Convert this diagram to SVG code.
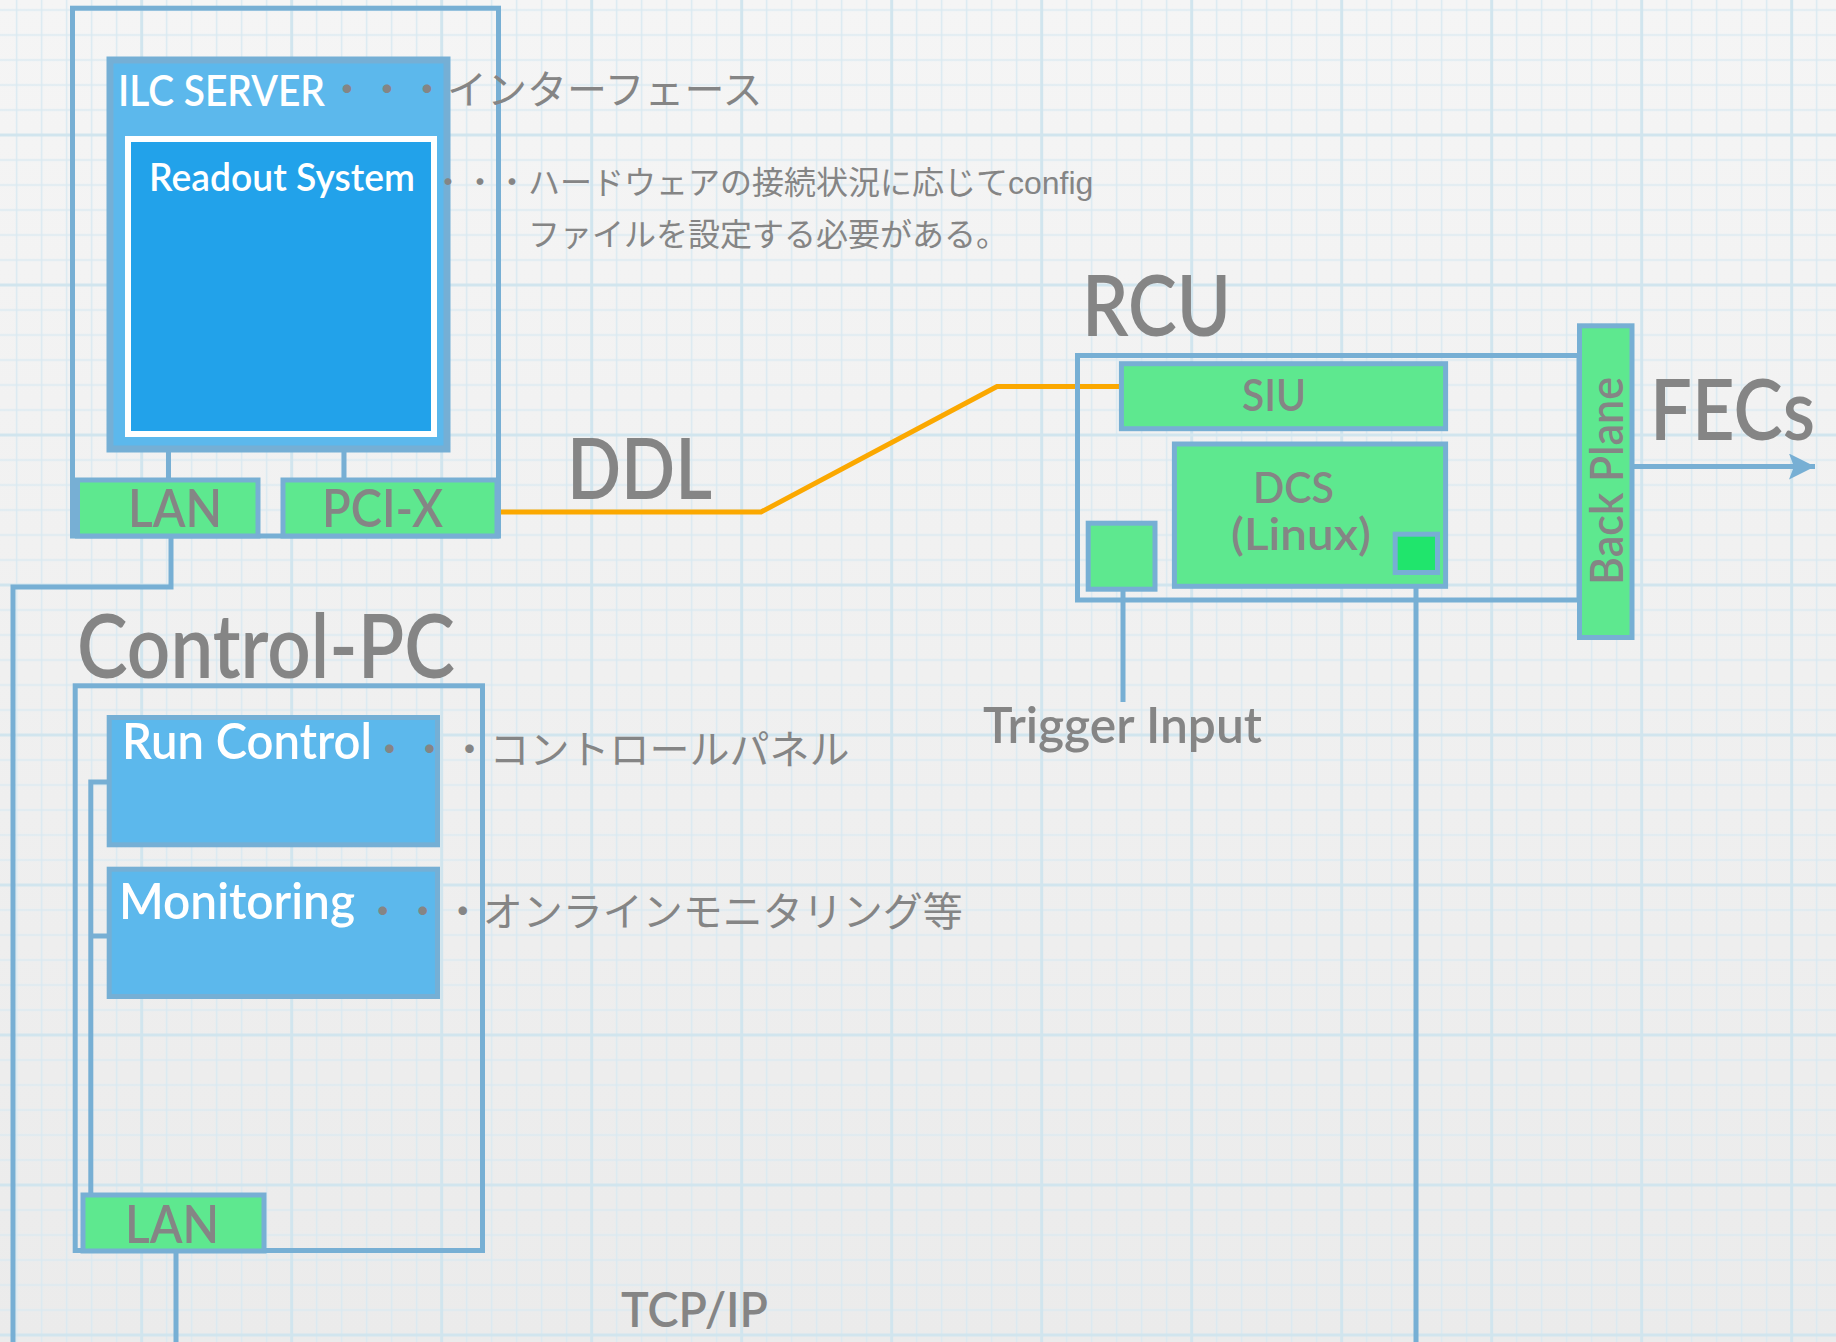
<svg xmlns="http://www.w3.org/2000/svg" width="1836" height="1342" viewBox="0 0 1836 1342">
<defs>
<linearGradient id="bg" x1="0" y1="0" x2="0" y2="1">
<stop offset="0" stop-color="#f5f5f5"/>
<stop offset="1" stop-color="#ebebeb"/>
</linearGradient>
<pattern id="grid" patternUnits="userSpaceOnUse" x="4.2" y="-2.5" width="150" height="150">
<g stroke="#d9e9f1" stroke-width="1.5">
<line x1="12.5" y1="0" x2="12.5" y2="150"/>
<line x1="37.5" y1="0" x2="37.5" y2="150"/>
<line x1="62.5" y1="0" x2="62.5" y2="150"/>
<line x1="87.5" y1="0" x2="87.5" y2="150"/>
<line x1="112.5" y1="0" x2="112.5" y2="150"/>
<line x1="0" y1="12.5" x2="150" y2="12.5"/>
<line x1="0" y1="37.5" x2="150" y2="37.5"/>
<line x1="0" y1="62.5" x2="150" y2="62.5"/>
<line x1="0" y1="87.5" x2="150" y2="87.5"/>
<line x1="0" y1="112.5" x2="150" y2="112.5"/>
</g>
<g stroke="#d1e5ee" stroke-width="3">
<line x1="137.5" y1="0" x2="137.5" y2="150"/>
<line x1="0" y1="137.5" x2="150" y2="137.5"/>
</g>
</pattern>
<marker id="arrow" markerUnits="userSpaceOnUse" markerWidth="30" markerHeight="30" refX="26" refY="13" orient="auto">
<path d="M0,0 L26,13 L0,26 L5,13 Z" fill="#77afd4"/>
</marker>
</defs>
<style>
.frame{fill:none;stroke:#77afd4;stroke-width:5}
.green{fill:#5ee88f;stroke:#77afd4;stroke-width:5}
.blue{fill:#5cb8ec;stroke:#75afd5;stroke-width:5}
.wire{fill:none;stroke:#77afd4;stroke-width:5}
.ddl{fill:none;stroke:#fba800;stroke-width:5;stroke-linejoin:miter}
.lbl{font-family:"Lato","Liberation Sans",sans-serif;font-weight:600;fill:#858585}
.wht{font-family:"Lato","Liberation Sans",sans-serif;font-weight:600;fill:#ffffff}
.note{font-family:"Liberation Sans","Noto Sans CJK JP",sans-serif;fill:#858585}
</style>
<rect x="0" y="0" width="1836" height="1342" fill="url(#bg)"/>
<rect x="0" y="0" width="1836" height="1342" fill="url(#grid)"/>

<g id="connectors">
<path class="wire" d="M168.5,452 V479"/>
<path class="wire" d="M344,437 V479"/>
<path class="wire" d="M171,538 V587 H13 V1342"/>
<path class="wire" d="M120,782 H90.8 V1195 M90.8,936 H120"/>
<path class="wire" d="M176,1252 V1342"/>
<path class="wire" d="M1123,591 V702"/>
<path class="wire" d="M1416,575 V1342"/>
<path class="wire" d="M1634,466.5 H1815" marker-end="url(#arrow)"/>
<path class="ddl" d="M497,512 H761 L997,386.5 H1121"/>
</g>

<g id="ilc-server-frame">
<rect class="frame" x="72.5" y="8.2" width="426" height="527.8"/>
</g>
<g id="ilc-server">
<rect x="110" y="60" width="337" height="389" fill="#5cb8ec" stroke="#75afd5" stroke-width="7"/>
<text class="wht" x="118" y="106" font-size="42" textLength="207" lengthAdjust="spacingAndGlyphs">ILC SERVER</text>
</g>
<g id="readout-system">
<rect x="128" y="139" width="306" height="295" fill="#22a2ea" stroke="#ffffff" stroke-width="6"/>
<text class="wht" x="149" y="191" font-size="39" textLength="266" lengthAdjust="spacingAndGlyphs">Readout System</text>
</g>
<g id="lan-server">
<rect class="green" x="77.5" y="480" width="180.5" height="56"/>
<text class="lbl" x="128" y="527" font-size="52" textLength="94" lengthAdjust="spacingAndGlyphs">LAN</text>
</g>
<g id="pci-x">
<rect class="green" x="283" y="480" width="214" height="56"/>
<text class="lbl" x="322" y="527" font-size="52" textLength="121" lengthAdjust="spacingAndGlyphs">PCI-X</text>
</g>

<g id="notes-server">
<text class="note" x="327" y="104" font-size="40">・・・インターフェース</text>
<text class="note" x="432" y="194" font-size="32">・・・ハードウェアの接続状況に応じてconfig</text>
<text class="note" x="528" y="246" font-size="32">ファイルを設定する必要がある。</text>
</g>

<g id="ddl-label">
<text class="lbl" x="567" y="499" font-size="84" textLength="145" lengthAdjust="spacingAndGlyphs">DDL</text>
</g>

<g id="control-pc">
<text class="lbl" x="77" y="678" font-size="88" textLength="378" lengthAdjust="spacingAndGlyphs">Control-PC</text>
<rect class="frame" x="75.2" y="685.8" width="407.3" height="564.7"/>
</g>
<g id="run-control">
<rect class="blue" x="109.2" y="717.5" width="328.3" height="127.3"/>
<text class="wht" x="122" y="759" font-size="50" textLength="250" lengthAdjust="spacingAndGlyphs">Run Control</text>
</g>
<g id="monitoring">
<rect class="blue" x="109.2" y="869.2" width="328.3" height="127.3"/>
<text class="wht" x="119" y="919" font-size="50" textLength="236" lengthAdjust="spacingAndGlyphs">Monitoring</text>
</g>
<g id="lan-pc">
<rect class="green" x="83" y="1195" width="181" height="56"/>
<text class="lbl" x="125" y="1243" font-size="51" textLength="94" lengthAdjust="spacingAndGlyphs">LAN</text>
</g>
<g id="notes-pc">
<text class="note" x="369.5" y="764" font-size="40">・・・コントロールパネル</text>
<text class="note" x="362.7" y="926" font-size="40">・・・オンラインモニタリング等</text>
</g>

<g id="rcu">
<text class="lbl" x="1082" y="336" font-size="84" textLength="149" lengthAdjust="spacingAndGlyphs">RCU</text>
<rect class="frame" x="1077.5" y="355.5" width="501.5" height="244.5"/>
</g>
<g id="siu">
<rect class="green" x="1121.4" y="363.7" width="324.2" height="65" stroke-width="6"/>
<text class="lbl" x="1242" y="411" font-size="44" textLength="64" lengthAdjust="spacingAndGlyphs">SIU</text>
</g>
<g id="dcs">
<rect class="green" x="1174.4" y="444" width="271.2" height="142.3" stroke-width="6"/>
<text class="lbl" x="1253" y="503" font-size="42" textLength="81" lengthAdjust="spacingAndGlyphs">DCS</text>
<text class="lbl" x="1231" y="550" font-size="44" textLength="140" lengthAdjust="spacingAndGlyphs">(Linux)</text>
</g>
<g id="dcs-port">
<rect x="1395.2" y="534.2" width="42.3" height="38.3" fill="#20e56c" stroke="#77afd4" stroke-width="5"/>
</g>
<g id="trigger-port">
<rect class="green" x="1088.2" y="523.2" width="66.8" height="66"/>
</g>
<g id="trigger-input">
<text class="lbl" x="983" y="743" font-size="49" textLength="279" lengthAdjust="spacingAndGlyphs">Trigger Input</text>
</g>
<g id="back-plane">
<rect class="green" x="1579.5" y="325.8" width="52.5" height="311.7"/>
<text class="lbl" transform="translate(1623,585) rotate(-90)" x="0" y="0" font-size="46" textLength="208" lengthAdjust="spacingAndGlyphs">Back Plane</text>
</g>
<g id="fecs">
<text class="lbl" x="1650" y="440" font-size="84" textLength="165" lengthAdjust="spacingAndGlyphs">FECs</text>
</g>
<g id="tcpip">
<text class="lbl" x="621" y="1327" font-size="48" textLength="147" lengthAdjust="spacingAndGlyphs">TCP/IP</text>
</g>
</svg>
